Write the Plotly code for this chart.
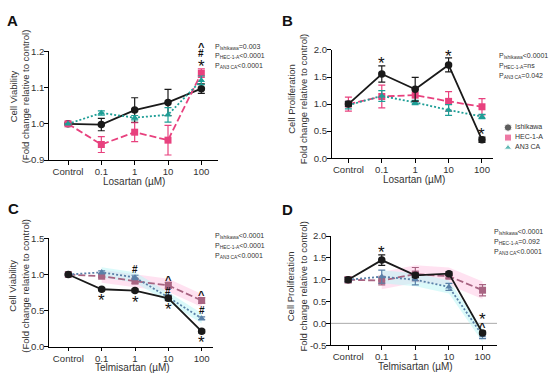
import plotly.graph_objects as go

# ---------------- data ----------------
categories = ["Control", "0.1", "1", "10", "100"]
series_names = ["Ishikawa", "HEC-1-A", "AN3 CA"]

# Panel A: Losartan, cell viability
ish_A = [1.000, 0.998, 1.038, 1.059, 1.097]
ish_A_err = [0.0, 0.017, 0.034, 0.036, 0.013]
hec_A = [1.000, 0.943, 0.977, 0.955, 1.140]
hec_A_err = [0.0, 0.022, 0.026, 0.041, 0.012]
an3_A = [1.000, 1.030, 1.017, 1.025, 1.120]
an3_A_err = [0.0, 0.006, 0.006, 0.020, 0.012]

# Panel B: Losartan, cell proliferation
ish_B = [1.00, 1.556, 1.275, 1.724, 0.34]
ish_B_err = [0.04, 0.15, 0.22, 0.13, 0.05]
hec_B = [1.00, 1.14, 1.165, 1.05, 0.95]
hec_B_err = [0.13, 0.21, 0.12, 0.18, 0.15]
an3_B = [0.98, 1.15, 1.03, 0.89, 0.77]
an3_B_err = [0.07, 0.10, 0.04, 0.10, 0.04]

# Panel C: Telmisartan, cell viability
ish_C = [1.00, 0.796, 0.778, 0.670, 0.214]
ish_C_err = [0.01, 0.02, 0.02, 0.03, 0.02]
hec_C = [1.00, 0.976, 0.908, 0.850, 0.640]
hec_C_err = [0.01, 0.02, 0.03, 0.04, 0.04]
an3_C = [1.00, 1.030, 0.960, 0.684, 0.393]
an3_C_err = [0.01, 0.02, 0.03, 0.03, 0.02]

# Panel D: Telmisartan, cell proliferation
ish_D = [1.00, 1.45, 1.10, 1.14, -0.22]
ish_D_err = [0.05, 0.12, 0.05, 0.04, 0.04]
hec_D = [1.00, 0.98, 1.13, 1.08, 0.76]
hec_D_err = [0.07, 0.10, 0.15, 0.05, 0.13]
an3_D = [1.00, 1.07, 1.00, 0.835, -0.28]
an3_D_err = [0.05, 0.15, 0.12, 0.08, 0.07]

# significance marks: (category index, y value, symbol)
sig_A = [(4, 1.218, "^"), (4, 1.194, "#"), (4, 1.170, "*")]
sig_B = [(1, 1.83, "*"), (3, 1.96, "*"), (4, 0.51, "*")]
sig_C = [(1, 0.694, "*"), (2, 1.065, "#"), (2, 0.675, "*"),
         (3, 0.953, "^"), (3, 0.765, "#"), (3, 0.573, "*"),
         (4, 0.750, "^"), (4, 0.496, "#"), (4, 0.110, "*")]
sig_D = [(1, 1.71, "*"), (4, 0.18, "*"), (4, -0.03, "^")]

pvals_A = [("Ishikawa", "=0.003"), ("HEC-1-A", "<0.0001"), ("AN3 CA", "<0.0001")]
pvals_B = [("Ishikawa", "<0.0001"), ("HEC-1-A", "=ns"), ("AN3 CA", "=0.042")]
pvals_C = [("Ishikawa", "<0.0001"), ("HEC-1-A", "<0.0001"), ("AN3 CA", "<0.0001")]
pvals_D = [("Ishikawa", "<0.0001"), ("HEC-1-A", "=0.092"), ("AN3 CA", "<0.0001")]

# ---------------- helpers ----------------
W, H = 550, 379
FONT = "Liberation Sans, Arial, sans-serif"
TXT = "#333333"


def px_x(p):
    return p / W


def px_y(p):
    return 1 - p / H


BLACK = "#1a1a1a"
PINK = "#e8417e"
TEAL = "#1e9e96"
MAUVE = "#a86482"
STEEL = "#5a80a8"

fig = go.Figure()
xs = list(range(len(categories)))


def add_series(ax, y, err, color, symbol, size, dash, width=1.8):
    xa, ya = ("x", "y") if ax == 1 else (f"x{ax}", f"y{ax}")
    fig.add_trace(go.Scatter(
        x=xs, y=y, xaxis=xa, yaxis=ya, mode="lines+markers",
        line=dict(color=color, width=width, dash=dash),
        marker=dict(symbol=symbol, size=size, color=color, line=dict(width=0)),
        error_y=dict(type="data", array=err, visible=True, color=color,
                     thickness=1.2, width=3.5),
        showlegend=False, cliponaxis=False, hoverinfo="skip"))


def add_band(ax, y, half, color):
    xa, ya = f"x{ax}", f"y{ax}"
    idx = xs[1:]
    up = [y[i] + half for i in idx]
    lo = [y[i] - half for i in idx]
    fig.add_trace(go.Scatter(x=idx, y=lo, xaxis=xa, yaxis=ya, mode="lines",
                             line=dict(width=0, color=color), showlegend=False,
                             hoverinfo="skip"))
    fig.add_trace(go.Scatter(x=idx, y=up, xaxis=xa, yaxis=ya, mode="lines",
                             line=dict(width=0, color=color), fill="tonexty",
                             fillcolor=color, showlegend=False, hoverinfo="skip"))


DASH = "7px,3px"
DOT = "2px,2px"

# Panel A
add_series(1, ish_A, ish_A_err, BLACK, "circle", 7.5, "solid")
add_series(1, hec_A, hec_A_err, PINK, "square", 7, DASH)
add_series(1, an3_A, an3_A_err, TEAL, "triangle-up", 6.5, DOT)
# Panel B
add_series(2, hec_B, hec_B_err, PINK, "square", 7, DASH)
add_series(2, an3_B, an3_B_err, TEAL, "triangle-up", 6.5, DOT)
add_series(2, ish_B, ish_B_err, BLACK, "circle", 7.5, "solid")
# Panel C
add_band(3, hec_C, 0.09, "rgba(255,190,225,0.45)")
add_band(3, an3_C, 0.07, "rgba(190,245,245,0.55)")
add_series(3, hec_C, hec_C_err, MAUVE, "square", 7, DASH)
add_series(3, an3_C, an3_C_err, STEEL, "triangle-up", 6.5, DOT)
add_series(3, ish_C, ish_C_err, BLACK, "circle", 7.5, "solid")
# Panel D
add_band(4, hec_D, 0.2, "rgba(255,190,225,0.45)")
add_band(4, an3_D, 0.15, "rgba(190,245,245,0.55)")
add_series(4, hec_D, hec_D_err, MAUVE, "square", 7, DASH)
add_series(4, an3_D, an3_D_err, STEEL, "triangle-up", 6.5, DOT)
add_series(4, ish_D, ish_D_err, BLACK, "circle", 7.5, "solid")

# legend (drawn in its own small axis)
fig.add_trace(go.Scatter(
    x=[0.16] * 3, y=[0, 1, 2], xaxis="x5", yaxis="y5", mode="markers",
    marker=dict(symbol=["circle", "square", "triangle-up"],
                color=[BLACK, PINK, TEAL], size=[7.5, 7, 6.5]),
    showlegend=False, hoverinfo="skip", cliponaxis=False))
fig.add_trace(go.Scatter(
    x=[0.30] * 3, y=[0, 1, 2], xaxis="x5", yaxis="y5", mode="text",
    text=series_names, textposition="middle right",
    textfont=dict(size=7, color=TXT, family=FONT),
    showlegend=False, hoverinfo="skip", cliponaxis=False))

# ---------------- axes ----------------
panels = {
    1: dict(xd=(49, 218), yd=(46.7, 158.7), xr=[-0.57, 4.5], yr=[0.9, 1.2],
            yt=[0.9, 1.0, 1.1, 1.2]),
    2: dict(xd=(331.7, 493), yd=(45.3, 156.7), xr=[-0.5, 4.33], yr=[0.0, 2.0],
            yt=[0.0, 0.5, 1.0, 1.5, 2.0]),
    3: dict(xd=(49, 213), yd=(239.3, 351), xr=[-0.58, 4.34], yr=[0.0, 1.5],
            yt=[0.0, 0.5, 1.0, 1.5]),
    4: dict(xd=(331, 497), yd=(237, 349.3), xr=[-0.51, 4.43], yr=[-0.5, 2.0],
            yt=[-0.5, 0.0, 0.5, 1.0, 1.5, 2.0]),
}

layout = dict(
    width=W, height=H, margin=dict(l=0, r=0, t=0, b=0),
    paper_bgcolor="white", plot_bgcolor="white",
    font=dict(family=FONT, color=TXT, size=10),
    showlegend=False,
)
for k, p in panels.items():
    xn = "xaxis" if k == 1 else f"xaxis{k}"
    yn = "yaxis" if k == 1 else f"yaxis{k}"
    ya_ref = "y" if k == 1 else f"y{k}"
    xa_ref = "x" if k == 1 else f"x{k}"
    common = dict(showline=True, linecolor="black", linewidth=1.3, ticks="outside",
                  ticklen=3.5, tickwidth=1.3, tickcolor="black", showgrid=False,
                  zeroline=False, tickfont=dict(size=9.6, color=TXT, family=FONT),
                  fixedrange=True)
    layout[xn] = dict(domain=[px_x(p["xd"][0]), px_x(p["xd"][1])], range=p["xr"],
                      tickmode="array", tickvals=xs, ticktext=categories,
                      anchor=ya_ref, ticklabelstandoff=-1, **common)
    layout[yn] = dict(domain=[px_y(p["yd"][1]), px_y(p["yd"][0])], range=p["yr"],
                      tickmode="array", tickvals=p["yt"],
                      ticktext=[f"{v:.1f}" for v in p["yt"]],
                      anchor=xa_ref, ticklabelstandoff=-2, **common)

layout["xaxis5"] = dict(domain=[px_x(500), 1.0], range=[0, 1], visible=False,
                        fixedrange=True, anchor="y5")
layout["yaxis5"] = dict(domain=[px_y(151), px_y(120)], range=[2.5, -0.5],
                        visible=False, fixedrange=True, anchor="x5")
fig.update_layout(**layout)

# zero reference line in D
fig.add_shape(type="line", xref="x4 domain", x0=0, x1=1, yref="y4", y0=0, y1=0,
              line=dict(color="#aaaaaa", width=1), layer="below")

ann = []

# panel letters
for letter, (lx, ly) in zip("ABCD", [(12, 15), (287, 15), (13, 209), (287, 210)]):
    ann.append(dict(text=f"<b>{letter}</b>", x=px_x(lx), y=px_y(ly), xref="paper",
                    yref="paper", showarrow=False, xanchor="center", yanchor="middle",
                    font=dict(size=15, color="#111", family=FONT)))

# axis titles
xtitles = [("Losartan (µM)", 134, 180.5), ("Losartan (µM)", 414, 179),
           ("Telmisartan (µM)", 132, 372), ("Telmisartan (µM)", 415, 371)]
for t, cx, cy in xtitles:
    ann.append(dict(text=t, x=px_x(cx), y=px_y(cy), xref="paper", yref="paper",
                    showarrow=False, xanchor="center", yanchor="middle",
                    font=dict(size=10, color=TXT, family=FONT)))

ytitles = [("Cell Viability<br>(Fold change relative to control)", 19, 93),
           ("Cell Proliferation<br>Fold change relative to control)", 297, 96),
           ("Cell Viability<br>(Fold change relative to control)", 19, 288),
           ("Cell Proliferation<br>Fold change relative to control)", 297, 289)]
for t, cx, cy in ytitles:
    ann.append(dict(text=t, x=px_x(cx), y=px_y(cy), xref="paper", yref="paper",
                    showarrow=False, xanchor="center", yanchor="middle", textangle=-90,
                    font=dict(size=9.5, color=TXT, family=FONT)))

# p-values
for pv, (px0, py0) in zip([pvals_A, pvals_B, pvals_C, pvals_D],
                          [(213, 42), (497, 52), (213, 237), (492, 233)]):
    for i, (name, val) in enumerate(pv):
        ann.append(dict(text=f"P<sub>{name}</sub>{val}", x=px_x(px0),
                        y=px_y(py0 + 10 * i), xref="paper", yref="paper",
                        showarrow=False, xanchor="left", yanchor="middle",
                        font=dict(size=7, color=TXT, family=FONT)))

# significance marks (y given as fraction of the axis range so that marks
# above the plotted range are still drawn)
sym_style = {"*": (17, -4), "#": (10, 0), "^": (11, -2)}
for k, sig in zip([1, 2, 3, 4], [sig_A, sig_B, sig_C, sig_D]):
    xr = "x" if k == 1 else f"x{k}"
    yr = "y domain" if k == 1 else f"y{k} domain"
    r0, r1 = panels[k]["yr"]
    for ci, yv, s in sig:
        size, shift = sym_style[s]
        ann.append(dict(text=f"<b>{s}</b>" if s != "*" else s, x=ci,
                        y=(yv - r0) / (r1 - r0),
                        xref=xr, yref=yr, showarrow=False, xanchor="center",
                        yanchor="middle", yshift=shift,
                        font=dict(size=size, color="#111", family=FONT)))

fig.update_layout(annotations=ann)
fig.write_html(
    "out.html",
    config={"displayModeBar": False},
    post_script="document.body.style.margin='0';document.body.style.padding='0';"
                "document.body.style.overflow='hidden';",
)
